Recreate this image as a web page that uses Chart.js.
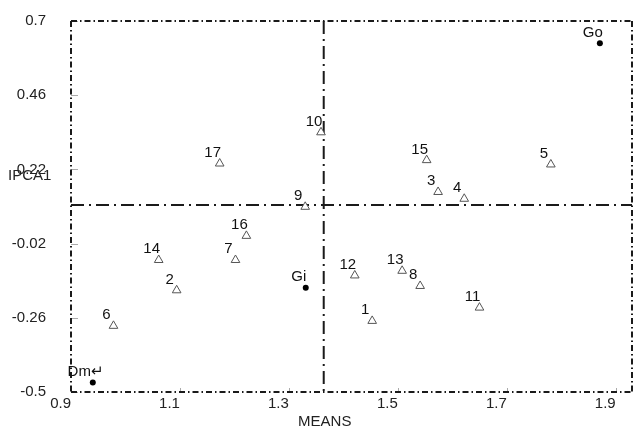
<!DOCTYPE html>
<html>
<head>
<meta charset="utf-8">
<script src="https://cdn.jsdelivr.net/npm/chart.js@4.4.1/dist/chart.umd.min.js"></script>
<style>
  html, body { margin: 0; padding: 0; background: #fff; }
  canvas { display: block; }
</style>
</head>
<body>
<canvas id="ammiChart" width="634" height="430"></canvas>
<script>
// genotypes (triangles)
const genoNames = ["1", "2", "3", "4", "5", "6", "7", "8", "9", "10", "11", "12", "13", "14", "15", "16", "17"];
const genoMeans = [1.453, 1.094, 1.574, 1.622, 1.781, 0.978, 1.202, 1.541, 1.330, 1.359, 1.650, 1.421, 1.508, 1.061, 1.553, 1.222, 1.173];
const genoIpca = [-0.270, -0.171, 0.147, 0.125, 0.236, -0.286, -0.073, -0.157, 0.099, 0.340, -0.227, -0.123, -0.108, -0.073, 0.250, 0.005, 0.239];

// environments (black dots)
const envNames = ["Go", "Gi", "Dm\u21B5"];
const envMeans = [1.871, 1.331, 0.940];
const envIpca = [0.628, -0.163, -0.469];

// axis ticks and the two reference lines
const xTicks = [0.9, 1.1, 1.3, 1.5, 1.7, 1.9];
const yTicks = [-0.5, -0.26, -0.02, 0.22, 0.46, 0.7];
const grandMean = 1.364;
const ipcaMid = 0.105;

const FONT = "Liberation Sans, Arial, sans-serif";

function toPoints(xs, ys) {
  let pts = [];
  for (let i = 0; i < xs.length; i++) {
    pts.push({ x: xs[i], y: ys[i] });
  }
  return pts;
}

function dashLine(ctx, x1, y1, x2, y2, dash, width) {
  ctx.save();
  ctx.strokeStyle = "#1a1a1a";
  ctx.lineWidth = width;
  ctx.setLineDash(dash);
  ctx.beginPath();
  ctx.moveTo(x1, y1);
  ctx.lineTo(x2, y2);
  ctx.stroke();
  ctx.restore();
}

// frame, small inner ticks and the dash-dot cross
const framePlugin = {
  id: "frame",
  beforeDatasetsDraw(chart) {
    const ctx = chart.ctx;
    const a = chart.chartArea;
    const xs = chart.scales.x;
    const ys = chart.scales.y;

    // light tick marks inside the frame
    ctx.save();
    ctx.strokeStyle = "#aaa";
    ctx.lineWidth = 1;
    yTicks.forEach((v) => {
      let py = Math.round(ys.getPixelForValue(v)) + 0.5;
      ctx.beginPath();
      ctx.moveTo(a.left, py);
      ctx.lineTo(a.left + 7, py);
      ctx.stroke();
    });
    xTicks.forEach((v) => {
      let px = Math.round(xs.getPixelForValue(v)) + 0.5;
      ctx.beginPath();
      ctx.moveTo(px, a.bottom);
      ctx.lineTo(px, a.bottom - 4);
      ctx.stroke();
    });
    ctx.restore();

    const fd = [6, 3, 1.5, 3];
    dashLine(ctx, a.left, a.top, a.right, a.top, fd, 2);
    dashLine(ctx, a.left, a.bottom, a.right, a.bottom, fd, 2);
    dashLine(ctx, a.left, a.top, a.left, a.bottom, fd, 2);
    dashLine(ctx, a.right, a.top, a.right, a.bottom, fd, 2);

    const cd = [13, 5, 2, 5];
    let mx = xs.getPixelForValue(grandMean);
    let my = ys.getPixelForValue(ipcaMid);
    dashLine(ctx, mx, a.top, mx, a.bottom, cd, 2);
    dashLine(ctx, a.left, my, a.right, my, cd, 2);
  },
  afterDatasetsDraw(chart) {
    const ctx = chart.ctx;
    ctx.save();
    ctx.font = "15px " + FONT;
    ctx.fillStyle = "#111";
    ctx.textAlign = "center";
    ctx.textBaseline = "alphabetic";
    const names = [genoNames, envNames];
    names.forEach((list, di) => {
      chart.getDatasetMeta(di).data.forEach((el, i) => {
        ctx.fillText(list[i], el.x - 7, el.y - 6.5);
      });
    });

    // axis titles
    ctx.fillStyle = "#222";
    ctx.textAlign = "left";
    ctx.textBaseline = "middle";
    ctx.fillText("IPCA1", 8, 176);
    ctx.textAlign = "center";
    ctx.fillText("MEANS", chart.scales.x.getPixelForValue(grandMean) + 1, 422);
    ctx.restore();
  },
};

const chart = new Chart(document.querySelector("#ammiChart"), {
  type: "scatter",
  data: {
    datasets: [
      {
        label: "genotypes",
        data: toPoints(genoMeans, genoIpca),
        pointStyle: "triangle",
        radius: 5,
        borderWidth: 1,
        borderColor: "#555",
        backgroundColor: "#fff",
      },
      {
        label: "environments",
        data: toPoints(envMeans, envIpca),
        pointStyle: "circle",
        radius: 3,
        borderWidth: 0,
        backgroundColor: "#000",
      },
    ],
  },
  options: {
    responsive: false,
    animation: false,
    devicePixelRatio: 1,
    layout: { autoPadding: false, padding: { top: 21, right: 2, left: 0, bottom: 0 } },
    plugins: {
      legend: { display: false },
      tooltip: { enabled: false },
    },
    scales: {
      x: {
        type: "linear",
        min: 0.9,
        max: 1.93,
        afterFit: (scale) => {
          scale.height = 38;
          scale.paddingLeft = 0;
          scale.paddingRight = 0;
        },
        afterBuildTicks: (scale) => { scale.ticks = xTicks.map((v) => ({ value: v })); },
        grid: { display: false, drawTicks: false },
        border: { display: false },
        ticks: {
          align: "end",
          padding: 3,
          color: "#222",
          font: { family: FONT, size: 15 },
          callback: (v) => String(v),
        },
      },
      y: {
        type: "linear",
        min: -0.5,
        max: 0.7,
        afterFit: (scale) => {
          scale.width = 71;
          scale.paddingTop = 0;
          scale.paddingBottom = 0;
        },
        afterBuildTicks: (scale) => { scale.ticks = yTicks.map((v) => ({ value: v })); },
        grid: { display: false, drawTicks: false },
        border: { display: false },
        ticks: {
          padding: 25,
          color: "#222",
          font: { family: FONT, size: 15 },
          callback: (v) => String(v),
        },
      },
    },
  },
  plugins: [framePlugin],
});
</script>
</body>
</html>
